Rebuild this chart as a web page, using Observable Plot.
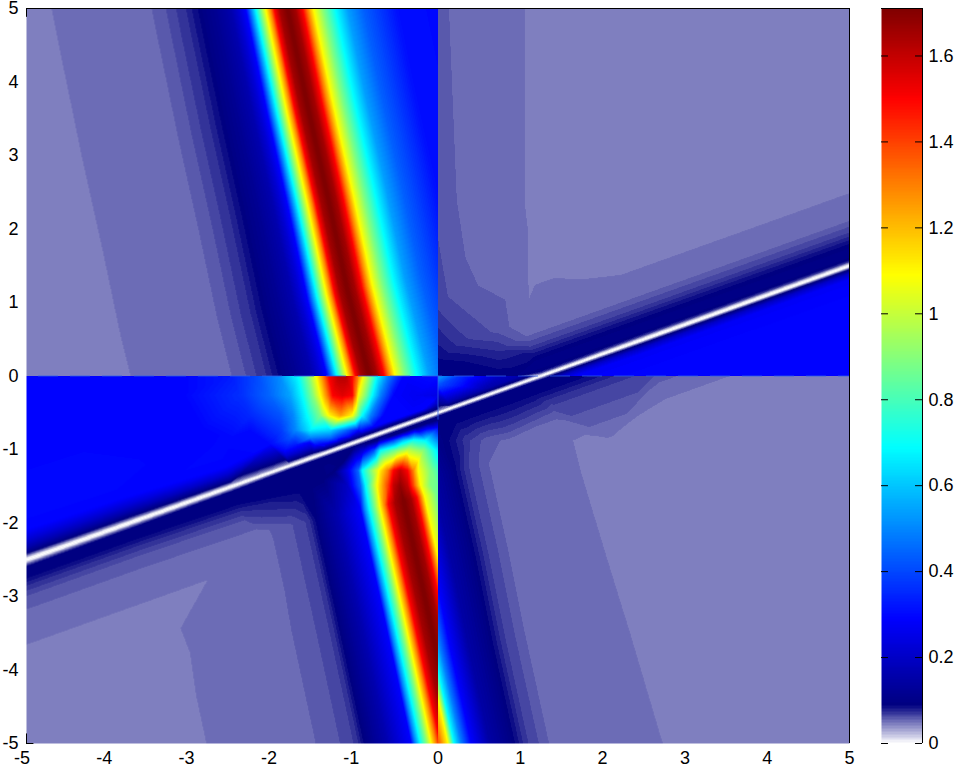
<!DOCTYPE html>
<html><head><meta charset="utf-8">
<style>html,body{margin:0;background:#fff}#chart{position:relative;width:958px;height:769px;overflow:hidden}#chart svg{position:absolute;top:0;background:transparent}</style>
<script src="https://cdn.jsdelivr.net/npm/d3@7"></script>
<script src="https://cdn.jsdelivr.net/npm/@observablehq/plot@0.6"></script>
</head><body><div id="chart"></div>
<script>
// Axis ticks
const xTicks=[-5,-4,-3,-2,-1,0,1,2,3,4,5];
const yTicks=[-5,-4,-3,-2,-1,0,1,2,3,4,5];
const barTicks=[0,0.2,0.4,0.6,0.8,1,1.2,1.4,1.6];
const barMax=1.7105;
// Colour stops
const colourStops=[0,.09,.29,.49,.69,.89,1.09,1.3,1.5,1.71];
const colourNames=["#ffffff","#000080","#0000ff","#0080ff","#00ffff","#80ff80","#ffff00","#ff8000","#ff0000","#800000"];

// Upper-left ridge: profile across the ridge (x distance from its crest) and crest positions
const q2Offsets=[-3,-2.75,-1.91,-1.66,-1.48,-1.24,-1.08,-.875,-.693,-.595,-.51,-.45,-.389,-.328,-.267,-.207,-.164,-.097,0,.097,.182,.243,.316,.437,.583,.729,.923,1.337,2.345];
const q2Values=[.047,.05,.052,.055,.062,.075,.09,.12,.16,.22,.29,.49,.69,.89,1.09,1.3,1.5,1.65,1.72,1.65,1.5,1.3,1.09,.89,.69,.54,.44,.31,.29];
const q2Crest=[[-1.951,5.68],[-1.829,5],[-1.586,3.68],[-1.33,2.388],[-1.1,1.163],[-.845,.034],[-.705,-.646]];

// Lower-left ridge
const q3RidgeOffsets=[-3.15,-2.85,-1.823,-1.458,-1.215,-1.118,-.85,-.547,-.498,-.437,-.365,-.304,-.243,-.194,-.109,0,.097,.17,.219,.267,.413,.608];
const q3RidgeValues=[.047,.05,.053,.06,.07,.09,.16,.29,.49,.69,.89,1.09,1.3,1.5,1.65,1.72,1.65,1.5,1.3,1.09,.87,.7];
const q3Crest=[[-.419,-1.694,2],[-.152,-3.054,0],[.109,-4.415,0],[.225,-5.027,0],[.371,-5.775,0]];

// Lower-right flank of that ridge, measured from the navy band
const q4FlankOffsets=[-.972,-.887,-.802,-.729,-.644,-.522,-.304,0,.146,.425,.729];
const q4FlankValues=[1.45,1.3,1.09,.69,.49,.29,.15,.09,.07,.055,.05];
const q4Flank=[[.213,-1.286],[.444,-2.442],[.651,-3.599],[.918,-4.959],[1.077,-5.776]];

// Thin line: values on each side and, per anchor, vertical distance of each value from the line
const q3AboveValues=[0,.005,.04,.09,.15,.22,.29,.3];
const q3Above=[[-6.25,-3,[0,.02,.048,.088,.163,.272,.408,.653]],[-5,-2.5,[0,.02,.048,.088,.163,.272,.408,.653]],[-3.75,-2,[0,.018,.041,.082,.15,.245,.367,.6]],[-2.5,-1.5,[0,.014,.037,.068,.122,.19,.286,.49]],
[-1.8,-1.22,[0,.012,.034,.06,.1,.15,.218]],[-1.65,-1.16,[0,.012,.034,.06,.1,.15,.218]],[-1.5,-1.1,[0,.012,.034,.06,.1,.15,.218]],
[-1.35,-1.04,[0,.01,.027,.048,.068,.088,.109]],[-1.2,-.98,[0,.01,.027,.048,.068,.088,.109]],[-1.05,-.92,[0,.01,.027,.048,.068,.088,.109]],
[-.9,-.86,[0,.01,.027,.048,.075,.095,.122]],[-.75,-.8,[0,.01,.027,.048,.075,.095,.122]],[-.6,-.74,[0,.01,.027,.048,.075,.095,.122]],[-.45,-.68,[0,.01,.027,.048,.075,.095,.122]],[-.3,-.62,[0,.01,.027,.048,.075,.095,.122]],[-.15,-.56,[0,.01,.027,.048,.075,.095,.122]],
[0,-.5,[0,.01,.027,.054,.095,.136,.19]],[.15,-.44,[0,.01,.027,.054,.095,.136,.19]],[.3,-.38,[0,.01,.027,.054,.095,.136,.19]]];
const q3BelowValues=[0,.005,.05,.09,.09,.075,.062,.055,.05,.047];
const q3Below=[[-6.25,-3,[0,.02,.054,.095,.245,.354,.49,.68,1.02,1.29]],[-5,-2.5,[0,.02,.054,.095,.245,.354,.49,.68,1.02,1.29]],[-3.75,-2,[0,.018,.048,.082,.245,.354,.49,.68,1.02,1.29]],[-2.5,-1.5,[0,.014,.041,.068,.272,.381,.517,.707,1.02]],
[-1.8,-1.22,[0,.011,.03,.052,.408]],[-1.65,-1.16,[0,.011,.03,.052,.38]],[-1.5,-1.1,[0,.011,.03,.052,.35]],[-1.35,-1.04,[0,.011,.03,.052,.3]],[-1.2,-.98,[0,.011,.03,.052,.2]],[-1.05,-.92,[0,.011,.03,.052,.07]],[-.9,-.86,[0,.011,.03,.052,.075]],[-.75,-.8,[0,.011,.03,.052,.08]],[-.6,-.74,[0,.011,.03,.052,.085]],[-.45,-.68,[0,.011,.03,.052,.09]],[-.3,-.62,[0,.011,.03,.052,.09]],[-.15,-.56,[0,.011,.03,.052,.09]],[0,-.5,[0,.011,.03,.052,.095]],[.15,-.44,[0,.011,.03,.052,.09]],[.3,-.38,[0,.011,.03,.052,.09]]];
const q4AboveValues=[0,.005,.04,.09,.16];
const q4Above=[[-.3,-.62],[-.15,-.56],[0,-.5],[.15,-.44],[.3,-.38],[.45,-.32],[.6,-.26],[.75,-.2],[.9,-.14],[1.05,-.08],[1.25,0],[2.5,.5],[3.75,1],[5,1.5],[6.25,2]].map(([x,y])=>[x,y,[0,.01,.027,.048,.095]]);
const q4BelowValues=[0,.005,.05,.09,.09,.07,.057,.05,.047];
const q4Below=[[-.3,-.62,[0,.01,.027,.048,.218]],[-.15,-.56,[0,.01,.027,.048,.218]],[0,-.5,[0,.01,.027,.048,.218]],[.15,-.44,[0,.01,.027,.048,.218]],[.3,-.38,[0,.01,.027,.048,.218]],[.45,-.32,[0,.01,.027,.048,.218]],[.6,-.26,[0,.01,.027,.048,.218]],[.75,-.2,[0,.01,.027,.048,.218]],[.9,-.14,[0,.01,.027,.048,.218]],[1.05,-.08,[0,.01,.027,.048,.218]],[1.25,0,[0,.011,.03,.052,.218,.408,.61,.816]],[2.5,.5,[0,.014,.034,.061,.218,.408,.61,.816,1.02]],[3.75,1,[0,.014,.034,.061,.218,.408,.61,.816,1.02]],[5,1.5,[0,.014,.034,.061,.218,.408,.61,.816,1.02]],[6.25,2,[0,.014,.034,.061,.218,.408,.61,.816,1.02]]];
const q1AboveValues=[0,.005,.035,.07,.09,.1,.095,.085,.07,.055,.05,.047];
const q1Above=[[1.25,0,[0,.011,.027,.044,.068,.136,.245,.326,.435,.612,.816]],[2.5,.5,[0,.014,.034,.054,.082,.136,.245,.326,.435,.612,.816,1.156]],[3.75,1,[0,.014,.034,.054,.082,.136,.245,.326,.435,.612,.816,1.156]],[5,1.5,[0,.014,.034,.054,.082,.136,.245,.326,.435,.612,.816,1.156]],[6.25,2,[0,.014,.034,.054,.082,.136,.245,.326,.435,.612,.816,1.156]]];
const q1BelowValues=[0,.005,.05,.09,.2,.28,.29,.29,.29];
const q1Below=[[1.25,0,[0,.011,.027,.048,.095,.163,.408,.952,1.77]],[2.5,.5,[0,.014,.034,.054,.109,.19,.408,.952,1.77]],[3.75,1,[0,.014,.034,.054,.109,.19,.408,.952,1.77]],[5,1.5,[0,.014,.034,.054,.109,.19,.408,.952,1.77]],[6.25,2,[0,.014,.034,.054,.109,.19,.408,.952,1.77]]];

// Free-standing readings: [y, [x, value, x, value, ...]]
const q1Rows=[
[5,[0,.058,.19,.054,.38,.052,.9,.05,1.2,.047,2.58,.047,5,.047]],
[2.39,[0,.06,.19,.056,.38,.052,.9,.05,1.2,.047]],
[1.4,[.9,.051,1.2,.047]],[1.16,[.31,.057]],
[1.03,[0,.065]],[.62,[.723,.06]],[.483,[0,.08,.31,.07]],[.347,[.723,.075]],
[.21,[0,.09]],[.18,[.31,.09]],[.075,[.723,.09]],[0,[0,.09,.31,.095,.95,.095]]];
const q3Rows=[
[0,[-5,.29,-3.13,.29,-2.52,.33,-2.22,.4,-1.94,.5,-1.7,.69,-1.57,.9,-1.48,1.09,-1.4,1.3,-1.33,1.5,-1.21,1.62,-1.12,1.62,-1.04,1.5,-.97,1.3,-.91,1.09,-.82,.89,-.74,.69,-.61,.49,-.42,.29,0,.31]],
[-.265,[-5,.29,-3.13,.29,-2.4,.36,-2.04,.45,-1.79,.55,-1.65,.69,-1.52,.9,-1.43,1.09,-1.35,1.3,-1.28,1.5,-1.16,1.55,-1.04,1.5,-1,1.3,-.97,1.09,-.88,.89,-.8,.69,-.7,.49,-.54,.29,-.27,.27,0,.25]],
[-.537,[-3.13,.29,-2.28,.35,-1.91,.42,-1.76,.5,-1.59,.69,-1.43,.89,-1.33,1.09,-1.18,1.25,-1.04,1.09,-.98,.89,-.92,.69,-.82,.49,-.66,.29]],
[-.741,[-2.89,.29,-2.28,.3,-1.91,.38,-1.73,.5,-1.55,.66,-1.31,.62,-1.12,.45,-.97,.3]],
[-.837,[-2.52,.3,-2.04,.33,-1.79,.42,-1.55,.5,-1.31,.46,-1.21,.36]],
[-.932,[-2.04,.3,-1.73,.33,-1.49,.32,-1.37,.27]],
[-.7,[0,.29]],
[-.878,[-.7,.18,-.55,.38,-.42,.6,-.3,.72,-.15,.68,0,.5]],
[-1.014,[-.91,.22,-.78,.4,-.7,.69,-.49,.9,-.37,1,-.18,.9,0,.65]],
[-1.286,[-1.31,.1,-1.1,.25,-.97,.45,-.92,.69,-.72,1.09,-.61,1.3,-.54,1.5,-.46,1.6,-.37,1.5,-.3,1.3,-.24,1.09,-.09,.89,0,.8]],
[-1.49,[-1.1,.2,-.94,.45,-.88,.69,-.74,1.09,-.61,1.4,-.54,1.6,-.46,1.68,-.37,1.6,-.3,1.4,-.21,1.09,-.09,.89,0,.85]],
[-5,[-5,.047,-3,.047]]];
const q4Rows=[
[0,[0,.55,.28,.36,.73,.2]],[-.12,[0,.42]],[-.14,[.3,.3]],[-.26,[0,.22]],[-.4,[0,.1]],
[-.878,[0,.1,.12,.09,.36,.07,.6,.058,.88,.053,1.61,.0486,2.1,.047]],
[-1.29,[1.7,.0486,2.2,.047]],[-2.44,[2.01,.0486,2.5,.047]],[-3.6,[2.33,.0486,2.8,.047]],[-5,[2.7,.0486,3.2,.047,5,.047]],
[0,[5,.047]]];

// Sample geometry: transects are placed square to the feature, on the picture's own aspect
const unitX=82.3, unitY=73.5, lineRise=.4*unitY/unitX, q2Lean=.215, q3Lean=.22, q4Lean=.2;
function acrossRidge(cx,cy,dx,v,lean){const o=dx*unitX,t=-lean*o/(1+lean*lean);return {x:cx+(o+lean*t)/unitX,y:cy-t/unitY,v};}
function acrossLine(ax,ay,dy,v){const o=dy*unitY,t=-lineRise*o/(1+lineRise*lineRise);return {x:ax+t/unitX,y:ay+dy+lineRise*t/unitY,v};}
const side=(rows,values,sign)=>rows.flatMap(([ax,ay,ds])=>ds.map((d,i)=>acrossLine(ax,ay,sign*d,values[i])));
const loose=rows=>rows.flatMap(([y,p])=>d3.range(0,p.length,2).map(i=>({x:p[i],y,v:p[i+1]})));

const q1=[...side(q1Above,q1AboveValues,1),...side(q1Below,q1BelowValues,-1),...loose(q1Rows)];
const q2=q2Crest.flatMap(([cx,cy])=>q2Offsets.map((d,i)=>acrossRidge(cx,cy,d,q2Values[i],q2Lean)));
const q3=[...side(q3Above,q3AboveValues,1),...side(q3Below,q3BelowValues,-1),...loose(q3Rows),
  ...q3Crest.flatMap(([cx,cy,skip])=>q3RidgeOffsets.slice(skip).map((d,i)=>acrossRidge(cx,cy,d,q3RidgeValues[i+skip],q3Lean)))];
const q4=[...side(q4Above,q4AboveValues,1),...side(q4Below,q4BelowValues,-1),...loose(q4Rows),
  ...q4Flank.flatMap(([cx,cy])=>q4FlankOffsets.map((d,i)=>acrossRidge(cx,cy,d,q4FlankValues[i],q4Lean)))];

// Stepped colour map, as in the colour bar
const binSize=.0067, binStart=.0016;
const thresholds=d3.range(0,256).map(k=>binStart+k*binSize);
const ramp=d3.scaleLinear().domain(colourStops).range(colourNames).clamp(true);
const binColours=[colourNames[0],...thresholds.map(t=>ramp(t+binSize/2))];
const colourScale={type:"threshold",domain:thresholds,range:binColours};

const field=(data,x1,x2,y1,y2)=>Plot.raster(data,{x:"x",y:"y",fill:"v",x1,x2,y1,y2,interpolate:"barycentric"});
const font={fontFamily:"'Liberation Sans',Arial,sans-serif",fontSize:18,color:"#000",overflow:"visible"};
const fmt=d=>String(d);

const main=Plot.plot({
  width:958,height:769,marginLeft:26,marginRight:109,marginTop:8,marginBottom:26,style:font,
  x:{domain:[-5,5]},y:{domain:[-5,5]},color:colourScale,
  marks:[
    field(q2,-5,0,0,5),field(q1,0,5,0,5),field(q3,-5,0,-5,0),field(q4,0,5,-5,0),
    Plot.ruleY([0],{stroke:"#2f5fe8",strokeOpacity:.75,strokeDasharray:"20,12",strokeDashoffset:20}),
    Plot.ruleX([0],{y1:0,y2:-.6,stroke:"#2f5fe8",strokeOpacity:.75}),
    Plot.ruleX([5],{stroke:"#000"}),Plot.ruleY([5],{stroke:"#000"}),
    Plot.ruleX([-5],{y1:4.88,y2:5,stroke:"#000"}),Plot.ruleX([-5],{y1:-5,y2:-4.87,stroke:"#000"}),
    Plot.ruleY([-5],{x1:-5,x2:-4.91,stroke:"#000"}),
    Plot.axisX(xTicks.filter(d=>d<0),{anchor:"bottom",tickSize:0,tickPadding:8,dx:-4.5,tickFormat:fmt,label:null,fontSize:18}),
    Plot.axisX(xTicks.filter(d=>d>=0),{anchor:"bottom",tickSize:0,tickPadding:8,tickFormat:fmt,label:null,fontSize:18}),
    Plot.axisY(yTicks,{anchor:"left",tickSize:0,tickPadding:8,tickFormat:fmt,label:null,fontSize:18})
  ]});
const bar=Plot.plot({
  width:77,height:769,marginLeft:0,marginRight:36,marginTop:8,marginBottom:26,style:font,
  x:{domain:[0,1],axis:null},y:{domain:[0,barMax]},color:colourScale,
  marks:[
    Plot.raster({fill:(x,y)=>y,x1:0,x2:1,y1:0,y2:barMax}),
    Plot.ruleX([1],{stroke:"#000"}),Plot.ruleY([barMax],{stroke:"#000"}),
    Plot.ruleY(barTicks,{x1:0,x2:.17,stroke:"#000"}),Plot.ruleY(barTicks,{x1:.83,x2:1,stroke:"#000"}),
    Plot.axisY(barTicks,{anchor:"right",tickSize:0,tickPadding:6,tickFormat:fmt,label:null,fontSize:18})
  ]});
bar.style.left="881px";main.style.left="0";
document.getElementById("chart").append(main,bar);
</script></body></html>
